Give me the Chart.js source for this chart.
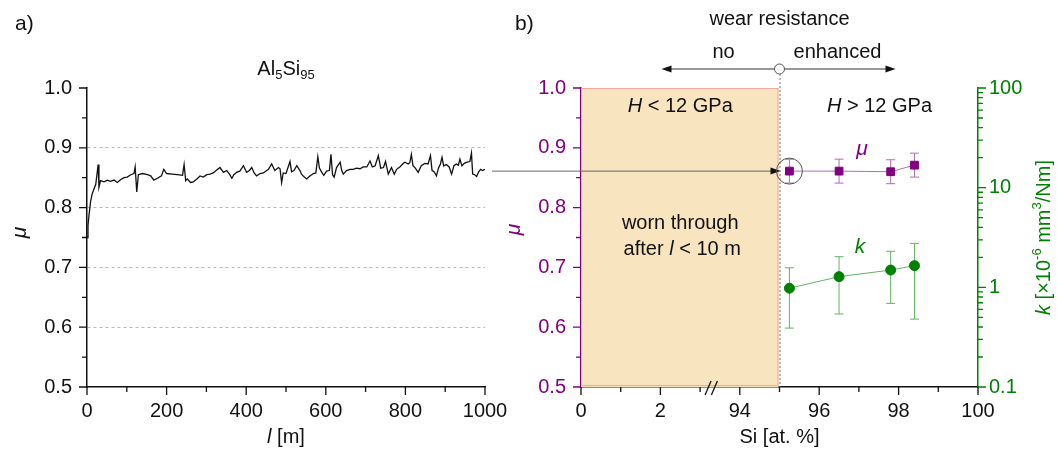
<!DOCTYPE html>
<html>
<head>
<meta charset="utf-8">
<script src="https://cdn.jsdelivr.net/npm/chart.js@4.4.1/dist/chart.umd.min.js"></script>
<style>
  html, body { margin: 0; padding: 0; background: #fff; }
  #wrap { position: relative; width: 1057px; height: 453px; }
  #ca { position: absolute; left: 0; top: 0; }
  #cb { position: absolute; left: 480px; top: 0; }
</style>
</head>
<body>
<div id="wrap">
  <canvas id="ca" width="520" height="453"></canvas>
  <canvas id="cb" width="577" height="453"></canvas>
</div>
<script>
// a) friction trace of Al5Si95, sliding distance l [m] vs mu
const distance = [0, 2.5, 5, 9, 13, 22, 28, 30, 34, 43, 51, 59, 68, 76, 85, 93, 101, 110, 118, 121,
  125, 129, 139, 152, 160, 168, 177, 187, 193, 200, 214, 227, 240, 244, 248, 252, 260,
  267, 276, 284, 292, 301, 309, 317, 326, 334, 343, 351, 358, 364, 369, 376, 384, 393, 401, 408, 414,
  420, 426, 435, 443, 456, 464, 472, 481, 485, 489, 493, 500, 510, 514, 520, 527, 535,
  539, 546, 552, 560, 569, 575, 580, 584, 590, 595, 602, 609, 613, 617, 621, 627, 636, 640, 644, 652,
  661, 669, 677, 686, 694, 703, 711, 717, 724, 732, 738, 745, 750, 757, 765, 772, 778, 786, 795,
  799, 807, 811, 815, 819, 825, 832, 840, 849, 857, 863, 867, 872, 878, 883, 888, 892, 896, 903, 910,
  916, 922, 928, 933, 937, 942, 948, 955, 962, 966, 969, 974, 979, 984, 989, 994, 1000];
const friction = [0.75, 0.77, 0.787, 0.81, 0.823, 0.839, 0.872, 0.834, 0.845, 0.843, 0.846, 0.844, 0.846, 0.842, 0.847, 0.85, 0.851, 0.855, 0.857, 0.868,
  0.826, 0.855, 0.857, 0.855, 0.853, 0.846, 0.849, 0.853, 0.864, 0.857, 0.856, 0.855, 0.854, 0.872, 0.845, 0.848, 0.842,
  0.843, 0.848, 0.853, 0.851, 0.855, 0.856, 0.858, 0.863, 0.867, 0.859, 0.862, 0.856, 0.849, 0.855, 0.859, 0.861, 0.870, 0.859, 0.862, 0.867,
  0.858, 0.853, 0.857, 0.858, 0.864, 0.873, 0.862, 0.867, 0.865, 0.842, 0.858, 0.857, 0.877, 0.860, 0.862, 0.870, 0.862,
  0.856, 0.851, 0.848, 0.853, 0.857, 0.858, 0.885, 0.866, 0.859, 0.854, 0.861, 0.862, 0.889, 0.855, 0.851, 0.867, 0.876, 0.862, 0.856, 0.862,
  0.864, 0.864, 0.866, 0.865, 0.868, 0.868, 0.878, 0.868, 0.870, 0.887, 0.866, 0.867, 0.877, 0.856, 0.867, 0.856, 0.864, 0.868, 0.874,
  0.876, 0.873, 0.875, 0.889, 0.870, 0.866, 0.859, 0.870, 0.874, 0.873, 0.887, 0.862, 0.860, 0.853, 0.866, 0.873, 0.884, 0.870, 0.872, 0.868,
  0.856, 0.870, 0.873, 0.871, 0.881, 0.870, 0.874, 0.876, 0.877, 0.891, 0.856, 0.855, 0.852, 0.860, 0.864, 0.862, 0.864];

// b) mu and wear rate k vs Si content
const siContent = [95.25, 96.5, 97.8, 98.4];
const muValues = [0.861, 0.861, 0.860, 0.871];
const muError = [0.02, 0.02, 0.02, 0.02];
const kValues = [0.98, 1.28, 1.49, 1.65];
const kLow = [0.39, 0.54, 0.69, 0.48];
const kHigh = [1.57, 2.03, 2.30, 2.76];
const siTickLabels = ['0', '2', '94', '96', '98', '100'];
const softLimitSi = 95;   // H < 12 GPa below this

// broken Si axis: 0..2 then 94..100
const siPos = s => (s < 50 ? s : s - 90);

const FF = "'Liberation Sans', Arial, sans-serif";
const F20 = '20px ' + FF, I20 = 'italic 20px ' + FF, F13 = '13px ' + FF, I21 = 'italic 21px ' + FF;
const INK = '#111', PURPLE = '#800080', PURPLE_L = '#b46ab4', GREEN = '#008000', GREEN_L = '#62b462';

Chart.defaults.font.family = FF;
Chart.defaults.font.size = 20;
Chart.defaults.color = INK;

function tickMarks(ctx, scale, values, len, color) {
  ctx.save();
  ctx.strokeStyle = color;
  ctx.lineWidth = 1.3;
  ctx.beginPath();
  values.forEach(v => {
    const p = scale.getPixelForValue(v);
    if (scale.axis === 'x') { ctx.moveTo(p, scale.top); ctx.lineTo(p, scale.top + len); }
    else if (scale.position === 'left') { ctx.moveTo(scale.right, p); ctx.lineTo(scale.right - len, p); }
    else { ctx.moveTo(scale.left, p); ctx.lineTo(scale.left + len, p); }
  });
  ctx.stroke();
  ctx.restore();
}

function richText(ctx, x, y, parts, align, color) {
  ctx.save();
  ctx.textBaseline = 'middle';
  ctx.textAlign = 'left';
  let w = 0;
  parts.forEach(p => { ctx.font = p.f; p.w = ctx.measureText(p.t).width; w += p.w; });
  let cx = align === 'center' ? x - w / 2 : align === 'right' ? x - w : x;
  parts.forEach(p => {
    ctx.font = p.f;
    ctx.fillStyle = p.c || color || INK;
    ctx.fillText(p.t, cx, y + (p.dy || 0));
    cx += p.w;
  });
  ctx.restore();
}

function arrowHead(ctx, x, y, dir, color) {
  ctx.save();
  ctx.fillStyle = color;
  ctx.beginPath();
  ctx.moveTo(x, y);
  ctx.lineTo(x - dir * 10, y - 3.5);
  ctx.lineTo(x - dir * 10, y + 3.5);
  ctx.closePath();
  ctx.fill();
  ctx.restore();
}

const panelA = {
  id: 'panelA',
  afterDraw(chart) {
    const { ctx, chartArea: a } = chart;
    const x = chart.scales.x, y = chart.scales.y;
    tickMarks(ctx, y, [0.5, 0.6, 0.7, 0.8, 0.9, 1.0], 8, INK);
    tickMarks(ctx, y, [0.55, 0.65, 0.75, 0.85, 0.95], 5, INK);
    tickMarks(ctx, x, [0, 200, 400, 600, 800, 1000], 8, INK);
    tickMarks(ctx, x, [100, 300, 500, 700, 900], 5, INK);
    richText(ctx, 15, 24, [{ t: 'a)', f: '21px ' + FF }], 'left');
    richText(ctx, (a.left + a.right) / 2, 69, [
      { t: 'Al', f: F20 }, { t: '5', f: F13, dy: 6 }, { t: 'Si', f: F20 }, { t: '95', f: F13, dy: 6 }], 'center');
    richText(ctx, (a.left + a.right) / 2, 437, [{ t: 'l', f: I20 }, { t: ' [m]', f: F20 }], 'center');
    ctx.save();
    ctx.translate(20, (a.top + a.bottom) / 2 - 5);
    ctx.rotate(-Math.PI / 2);
    richText(ctx, 0, 0, [{ t: 'μ', f: I21 }], 'center');
    ctx.restore();
  }
};

new Chart(document.getElementById('ca'), {
  type: 'line',
  data: {
    datasets: [{
      data: distance.map((l, i) => ({ x: l, y: friction[i] })),
      borderColor: '#111',
      borderWidth: 1.3,
      pointRadius: 0,
      tension: 0
    }]
  },
  options: {
    responsive: false,
    animation: false,
    events: [],
    layout: { padding: { top: 88, right: 35, left: 0, bottom: 0 } },
    plugins: { legend: { display: false }, tooltip: { enabled: false } },
    scales: {
      x: {
        type: 'linear', min: 0, max: 1000,
        ticks: { stepSize: 200, padding: 12, maxRotation: 0, callback: v => String(v) },
        grid: { display: false, drawTicks: false },
        border: { color: INK, width: 1.5 },
        afterFit: s => { s.height = 66; }
      },
      y: {
        min: 0.5, max: 1.0,
        ticks: { stepSize: 0.1, padding: 15, callback: v => v.toFixed(1) },
        grid: {
          drawTicks: false,
          color: c => (c.tick && c.tick.value > 0.55 && c.tick.value < 0.95) ? '#b8b8b8' : 'rgba(0,0,0,0)',
          lineWidth: 1
        },
        border: { color: INK, width: 1.5, dash: [3, 3] },
        afterFit: s => { s.width = 87; }
      }
    }
  },
  plugins: [panelA]
});

const panelB = {
  id: 'panelB',
  beforeDatasetsDraw(chart) {
    const { ctx } = chart;
    const x = chart.scales.x, y = chart.scales.y, y2 = chart.scales.y2;
    // soft region (worn through)
    const x0 = x.getPixelForValue(0), x1 = x.getPixelForValue(siPos(softLimitSi));
    const yt = y.getPixelForValue(1.0), yb = y.getPixelForValue(0.5);
    ctx.save();
    ctx.fillStyle = '#f8e4bf';
    ctx.fillRect(x0, yt, x1 - x0 - 1, yb - yt);
    ctx.strokeStyle = '#f2a89f';
    ctx.lineWidth = 1;
    ctx.strokeRect(x0 + 0.5, yt + 0.5, x1 - x0 - 2, yb - yt - 2);
    // boundary at 95 at.% Si
    ctx.strokeStyle = '#777';
    ctx.setLineDash([2, 2]);
    ctx.beginPath();
    ctx.moveTo(x1 + 0.5, 74);
    ctx.lineTo(x1 + 0.5, yb);
    ctx.stroke();
    ctx.setLineDash([]);
    // error bars
    ctx.lineWidth = 1;
    const bar = (px, ya, yb2, color) => {
      ctx.strokeStyle = color;
      ctx.beginPath();
      ctx.moveTo(px, ya); ctx.lineTo(px, yb2);
      ctx.moveTo(px - 4.5, ya); ctx.lineTo(px + 4.5, ya);
      ctx.moveTo(px - 4.5, yb2); ctx.lineTo(px + 4.5, yb2);
      ctx.stroke();
    };
    siContent.forEach((s, i) => {
      const px = x.getPixelForValue(siPos(s));
      bar(px, y.getPixelForValue(muValues[i] + muError[i]), y.getPixelForValue(muValues[i] - muError[i]), PURPLE_L);
      bar(px, y2.getPixelForValue(kHigh[i]), y2.getPixelForValue(kLow[i]), GREEN_L);
    });
    ctx.restore();
  },
  afterDraw(chart) {
    const { ctx, chartArea: a } = chart;
    const x = chart.scales.x, y = chart.scales.y, y2 = chart.scales.y2;
    // tick marks
    tickMarks(ctx, y, [0.5, 0.6, 0.7, 0.8, 0.9, 1.0], 8, PURPLE);
    tickMarks(ctx, y, [0.55, 0.65, 0.75, 0.85, 0.95], 5, PURPLE);
    tickMarks(ctx, x, [0, 2, 4, 6, 8, 10], 8, INK);
    tickMarks(ctx, x, [1, 3, 5, 7, 9], 5, INK);
    tickMarks(ctx, y2, [0.1, 1, 10, 100], 8, GREEN);
    const minorK = [];
    [0.1, 1, 10].forEach(d => { for (let m = 2; m <= 9; m++) minorK.push(d * m); });
    tickMarks(ctx, y2, minorK, 5, GREEN);

    // axis break marks
    ctx.save();
    ctx.strokeStyle = INK;
    ctx.lineWidth = 1.3;
    [3.2, 3.36].forEach(p => {
      const px = x.getPixelForValue(p);
      ctx.beginPath();
      ctx.moveTo(px - 3, a.bottom + 8);
      ctx.lineTo(px + 3, a.bottom - 6);
      ctx.stroke();
    });
    ctx.restore();

    const xb = x.getPixelForValue(siPos(softLimitSi));
    // arrow from panel a
    const ya = y.getPixelForValue(muValues[0]);
    ctx.save();
    ctx.strokeStyle = '#666';
    ctx.lineWidth = 1;
    ctx.beginPath();
    ctx.moveTo(12, ya); ctx.lineTo(xb - 8, ya);
    ctx.stroke();
    ctx.restore();
    arrowHead(ctx, xb + 1, ya, 1, INK);
    // circle around first mu point
    const p0 = x.getPixelForValue(siPos(siContent[0]));
    ctx.save();
    ctx.strokeStyle = '#555';
    ctx.lineWidth = 1;
    ctx.beginPath();
    ctx.arc(p0, ya, 13, 0, Math.PI * 2);
    ctx.stroke();
    ctx.restore();

    // wear resistance arrow
    const yr = 69;
    ctx.save();
    ctx.strokeStyle = '#333';
    ctx.lineWidth = 1;
    ctx.beginPath();
    ctx.moveTo(xb - 110, yr); ctx.lineTo(xb + 108, yr);
    ctx.stroke();
    ctx.restore();
    arrowHead(ctx, xb - 118, yr, -1, INK);
    arrowHead(ctx, xb + 116, yr, 1, INK);
    ctx.save();
    ctx.fillStyle = '#fff';
    ctx.strokeStyle = '#555';
    ctx.beginPath();
    ctx.arc(xb, yr, 5, 0, Math.PI * 2);
    ctx.fill();
    ctx.stroke();
    ctx.restore();

    richText(ctx, 35, 24, [{ t: 'b)', f: '21px ' + FF }], 'left');
    richText(ctx, xb, 19, [{ t: 'wear resistance', f: F20 }], 'center');
    richText(ctx, xb - 56, 52, [{ t: 'no', f: F20 }], 'center');
    richText(ctx, xb + 58, 52, [{ t: 'enhanced', f: F20 }], 'center');
    const xs = (x.getPixelForValue(0) + xb) / 2;
    richText(ctx, xs, 106, [{ t: 'H', f: I20 }, { t: ' < 12 GPa', f: F20 }], 'center');
    richText(ctx, xb + 100, 106, [{ t: 'H', f: I20 }, { t: ' > 12 GPa', f: F20 }], 'center');
    richText(ctx, xs, 223, [{ t: 'worn through', f: F20 }], 'center');
    richText(ctx, xs + 2, 249, [{ t: 'after ', f: F20 }, { t: 'l', f: I20 }, { t: ' < 10 m', f: F20 }], 'center');
    richText(ctx, 382, 149, [{ t: 'μ', f: I21 }], 'center', PURPLE);
    richText(ctx, 380, 247, [{ t: 'k', f: I21 }], 'center', GREEN);
    richText(ctx, (a.left + a.right) / 2, 437, [{ t: 'Si [at. %]', f: F20 }], 'center');

    // axis titles
    ctx.save();
    ctx.translate(34, (a.top + a.bottom) / 2 - 8);
    ctx.rotate(-Math.PI / 2);
    richText(ctx, 0, 0, [{ t: 'μ', f: I21 }], 'center', PURPLE);
    ctx.restore();
    ctx.save();
    ctx.translate(564, (a.top + a.bottom) / 2);
    ctx.rotate(-Math.PI / 2);
    richText(ctx, 0, 0, [
      { t: 'k', f: I20 }, { t: ' [×10', f: F20 }, { t: '-6', f: F13, dy: -7 },
      { t: ' mm', f: F20 }, { t: '3', f: F13, dy: -7 }, { t: '/Nm]', f: F20 }], 'center', GREEN);
    ctx.restore();
  }
};

new Chart(document.getElementById('cb'), {
  type: 'line',
  data: {
    datasets: [
      {
        yAxisID: 'y',
        data: siContent.map((s, i) => ({ x: siPos(s), y: muValues[i] })),
        borderColor: PURPLE_L,
        borderWidth: 1,
        pointStyle: 'rect',
        pointRadius: 5.5,
        pointBackgroundColor: PURPLE,
        pointBorderColor: PURPLE,
        pointBorderWidth: 1,
        tension: 0
      },
      {
        yAxisID: 'y2',
        data: siContent.map((s, i) => ({ x: siPos(s), y: kValues[i] })),
        borderColor: GREEN_L,
        borderWidth: 1,
        pointStyle: 'circle',
        pointRadius: 5,
        pointBackgroundColor: GREEN,
        pointBorderColor: GREEN,
        pointBorderWidth: 1,
        tension: 0
      }
    ]
  },
  options: {
    responsive: false,
    animation: false,
    events: [],
    layout: { padding: { top: 88, right: 0, left: 0, bottom: 0 } },
    plugins: { legend: { display: false }, tooltip: { enabled: false } },
    scales: {
      x: {
        type: 'linear', min: 0, max: 10,
        ticks: { stepSize: 2, padding: 12, maxRotation: 0, callback: v => siTickLabels[Math.round(v / 2)] },
        grid: { display: false, drawTicks: false },
        border: { color: INK, width: 1.5 },
        afterFit: s => { s.height = 66; }
      },
      y: {
        position: 'left', min: 0.5, max: 1.0,
        ticks: { stepSize: 0.1, padding: 15, color: PURPLE, callback: v => v.toFixed(1) },
        grid: { display: false, drawTicks: false },
        border: { color: PURPLE, width: 1.5 },
        afterFit: s => { s.width = 101; }
      },
      y2: {
        type: 'logarithmic', position: 'right', min: 0.1, max: 100,
        afterBuildTicks: s => {
          s.ticks = s.ticks.filter(t => Math.abs(Math.log10(t.value) - Math.round(Math.log10(t.value))) < 1e-6);
        },
        ticks: { padding: 11, color: GREEN, autoSkip: false, callback: v => String(v) },
        grid: { display: false, drawTicks: false },
        border: { color: GREEN, width: 1.5 },
        afterFit: s => { s.width = 79; }
      }
    }
  },
  plugins: [panelB]
});
</script>
</body>
</html>
